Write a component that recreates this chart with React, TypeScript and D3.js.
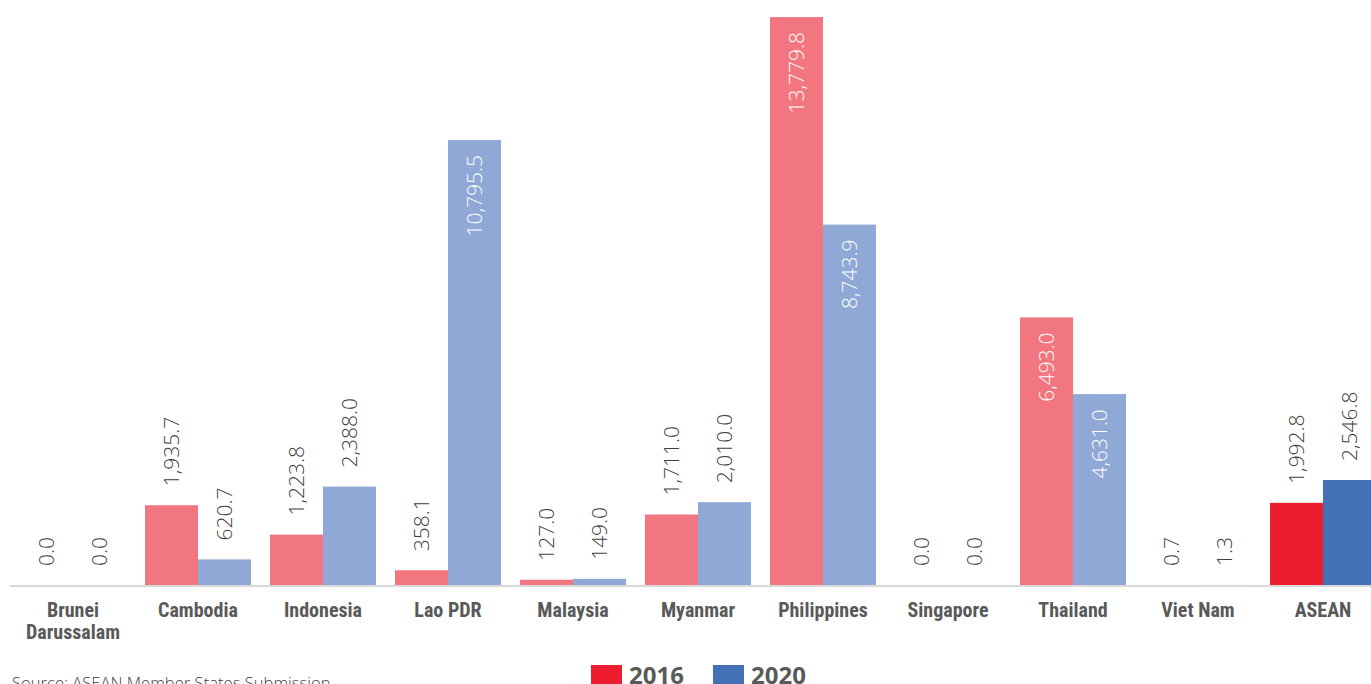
import * as d3 from "d3";

const categories = ["Brunei\nDarussalam", "Cambodia", "Indonesia", "Lao PDR", "Malaysia", "Myanmar", "Philippines", "Singapore", "Thailand", "Viet Nam", "ASEAN"];
const values2016 = [0.0, 1935.7, 1223.8, 358.1, 127.0, 1711.0, 13779.8, 0.0, 6493.0, 0.7, 1992.8];
const values2020 = [0.0, 620.7, 2388.0, 10795.5, 149.0, 2010.0, 8743.9, 0.0, 4631.0, 1.3, 2546.8];
const seriesNames = ["2016", "2020"];

const width = 1371;
const height = 684;

const App = () => {
  // band layout: groups are 125px apart
  const x = d3.scaleBand<string>().domain(categories).range([10.5, 1385.5]).paddingInner(0.152).paddingOuter(0.076);
  const sub = d3.scaleBand<string>().domain(seriesNames).range([0, x.bandwidth()]);
  const y = d3.scaleLinear().domain([0, 14000]).range([585, 8]);
  const fmt = d3.format(",.1f");

  const colorFor = (cat: string, s: number) => {
    if (cat === "ASEAN") return s === 0 ? "#ED1C2E" : "#4470B6";
    return s === 0 ? "#F2767F" : "#8FA8D5";
  };

  const labelFont = "'Liberation Sans Narrow', 'Arial Narrow', 'Roboto Condensed', sans-serif";

  return (
    <svg width={width} height={height} style={{ position: "absolute", left: 0, top: 0, background: "#fff" }}>
      {categories.map((cat, i) => (
        <g key={cat}>
          {[values2016[i], values2020[i]].map((v, s) => {
            const bx = (x(cat) as number) + (sub(seriesNames[s]) as number);
            const bw = sub.bandwidth();
            const top = y(v);
            const inside = v > 4000;
            const cx = bx + bw / 2;
            const ly = inside ? top + 15 : top - 19;
            return (
              <g key={s}>
                <rect x={bx} y={top} width={bw} height={y(0) - top} fill={colorFor(cat, s)} />
                <text
                  transform={`translate(${cx},${ly}) rotate(-90)`}
                  dy="0.36em"
                  textAnchor={inside ? "end" : "start"}
                  fontFamily="'Open Sans', sans-serif"
                  fontWeight={300}
                  fontSize={21}
                  fill={inside ? "#ffffff" : "#404040"}
                >
                  {fmt(v)}
                </text>
              </g>
            );
          })}
          <text
            x={(x(cat) as number) + x.bandwidth() / 2}
            y={617}
            textAnchor="middle"
            fontFamily={labelFont}
            fontWeight={700}
            fontSize={20}
            fill="#595959"
          >
            {cat.split("\n").map((line, k) => (
              <tspan key={k} x={(x(cat) as number) + x.bandwidth() / 2} dy={k === 0 ? 0 : 22}>
                {line}
              </tspan>
            ))}
          </text>
        </g>
      ))}
      <line x1={10} x2={width} y1={y(0) + 1} y2={y(0) + 1} stroke="#d9d9d9" strokeWidth={2} />

      {/* legend */}
      {seriesNames.map((s, k) => (
        <g key={s} transform={`translate(${591 + k * 122},0)`}>
          <rect x={0} y={665} width={31} height={19} fill={k === 0 ? "#ED1C2E" : "#4470B6"} />
          <text x={38} y={684} fontFamily="'Open Sans', sans-serif" fontWeight={700} fontSize={24} fill="#595959">
            {s}
          </text>
        </g>
      ))}

      <text x={12} y={689} fontFamily="'Open Sans', sans-serif" fontWeight={300} fontSize={16.6} fill="#404040">
        Source: ASEAN Member States Submission
      </text>
    </svg>
  );
};

export default App;
